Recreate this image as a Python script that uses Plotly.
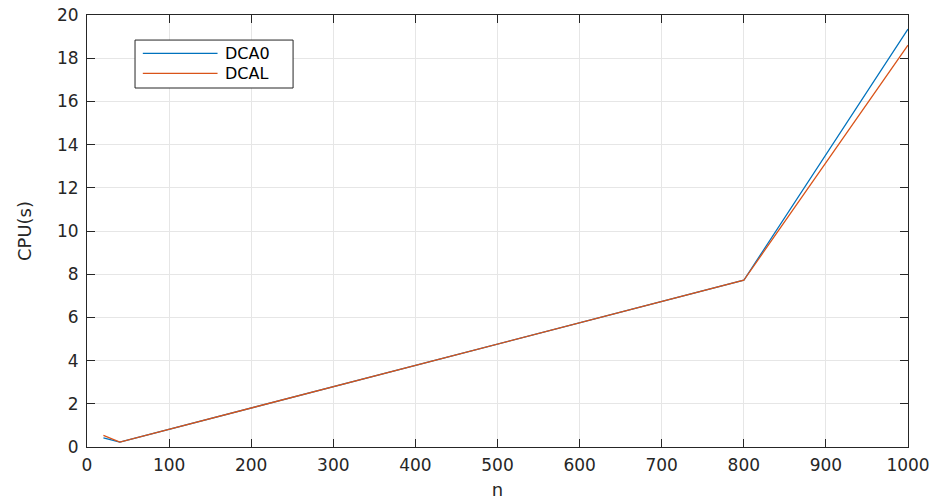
import plotly.graph_objects as go

n_values = [20, 40, 800, 1000]
dca0_cpu = [0.42, 0.23, 7.72, 19.35]
dcal_cpu = [0.54, 0.23, 7.72, 18.6]
series_names = ["DCA0", "DCAL"]
series_colors = ["#0072BD", "#D95319"]
x_ticks = [0, 100, 200, 300, 400, 500, 600, 700, 800, 900, 1000]
y_ticks = [0, 2, 4, 6, 8, 10, 12, 14, 16, 18, 20]

fam = "DejaVu Sans, Liberation Sans, Arial, sans-serif"
font = dict(family=fam, size=17, color="#262626")
fig = go.Figure()
for name, ys, col in zip(series_names, [dca0_cpu, dcal_cpu], series_colors):
    fig.add_trace(go.Scatter(x=n_values, y=ys, mode="lines", name=name,
                             line=dict(color=col, width=1.3), showlegend=False))

axis_common = dict(showline=True, linecolor="#262626", linewidth=1, mirror="ticks",
                   ticks="inside", ticklen=8, tickcolor="#262626",
                   showgrid=True, gridcolor="#e6e6e6", gridwidth=1, zeroline=False,
                   tickfont=font, automargin=False)

fig.update_layout(
    width=939, height=500,
    margin=dict(l=87, r=31, t=15, b=53),
    paper_bgcolor="white", plot_bgcolor="white",
    font=font,
    xaxis=dict(range=[0, 1000], tickvals=x_ticks, ticklabelstandoff=3,
               title=dict(text="n", font=dict(family=fam, size=18, color="#262626"), standoff=8), **axis_common),
    yaxis=dict(range=[0, 20], tickvals=y_ticks, ticklabelstandoff=4,
               title=dict(text="CPU(s)", font=dict(family=fam, size=18, color="#262626"), standoff=20), **axis_common),
)

fig.add_shape(type="rect", xref="paper", yref="paper", x0=0.0585, x1=0.251, y0=0.831, y1=0.942,
              line=dict(color="#262626", width=1), fillcolor="white", layer="above")
leg_y = [0.911, 0.865]
for name, col, yy in zip(series_names, series_colors, leg_y):
    fig.add_shape(type="line", xref="paper", yref="paper", x0=0.068, x1=0.159, y0=yy, y1=yy,
                  line=dict(color=col, width=1.2), layer="above")
    fig.add_annotation(xref="paper", yref="paper", x=0.166, y=yy, text=name, showarrow=False,
                       xanchor="left", yanchor="middle", font=dict(family=fam, size=16, color="black"))

fig.write_html("out.html", config={"displayModeBar": False},
               post_script="document.body.style.margin='0';")
